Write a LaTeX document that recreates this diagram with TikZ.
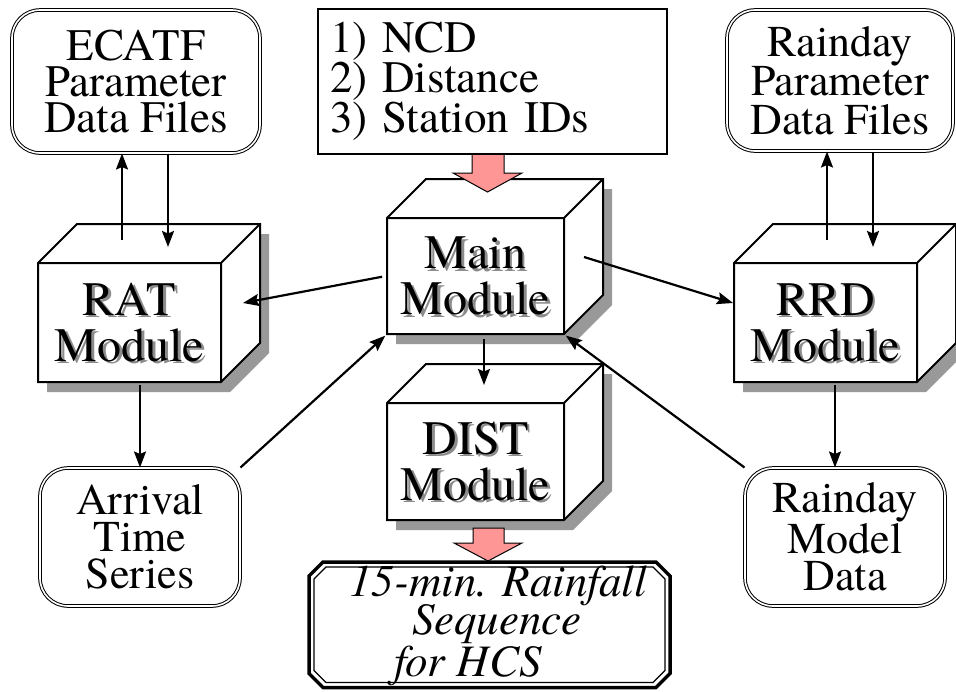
\documentclass[tikz,border=0pt]{standalone}
\usepackage{fontspec}
\setmainfont{texgyretermes}[Extension=.otf, UprightFont=*-regular, ItalicFont=*-italic, BoldFont=*-bold, BoldItalicFont=*-bolditalic]
\usetikzlibrary{arrows.meta,calc}
\definecolor{pinkc}{RGB}{255,150,150}
\definecolor{shadowc}{RGB}{153,153,153}
\tikzset{
  dbox/.style={draw, double, line width=1pt, double distance=1.6pt, rounded corners=28pt, fill=white, align=center, inner sep=0pt, font=\fontsize{44}{37}\selectfont},
  arr/.style={line width=2.2pt, -{Stealth[length=16pt,width=12pt,inset=2.5pt]}},
  cubeline/.style={line width=2pt, line join=miter},
  modlabel/.style={align=center, inner sep=0pt, font=\fontsize{48}{46}\selectfont},
  pinkarr/.style={fill=pinkc, draw=black, line width=1pt, line join=miter},
}
\newcommand\modcube[6]{%
  \fill[shadowc] ({#2+9},{#3+10}) -- ({#2+48},{#3-29}) -- ({#4+48},{#3-29}) -- ({#4+48},{#5-29}) -- ({#4+9},{#5+10}) -- ({#2+9},{#5+10}) -- cycle;
  \filldraw[cubeline, fill=white] (#2,#3) -- ({#2+39},{#3-39}) -- ({#4+39},{#3-39}) -- ({#4+39},{#5-39}) -- (#4,#5) -- (#2,#5) -- cycle;
  \draw[cubeline] (#2,#3) -- (#4,#3) -- (#4,#5) (#4,#3) -- ({#4+39},{#3-39});
  \node[modlabel, text=black!45] at ({(#2+#4)/2+2.5},{(#3+#5)/2+2.5}) {#6};
  \node[modlabel, minimum width={(#4-#2)*1pt}, minimum height={(#5-#3)*1pt}, outer sep=1pt] (#1) at ({(#2+#4)/2},{(#3+#5)/2}) {#6};
}
\begin{document}
\begin{tikzpicture}[x=1pt,y=-1pt]
\useasboundingbox (0,0) rectangle (956,691);
% data boxes
\node[dbox, minimum width=248pt, minimum height=143pt, font=\fontsize{45}{36}\selectfont] (ecatf) at (136,81.5) {ECATF\\Parameter\\Data Files};
\node[dbox, minimum width=226pt, minimum height=141pt, font=\fontsize{44}{39}\selectfont] (rparam) at (840,80.5) {Rainday\\Parameter\\Data Files};
\node[dbox, minimum width=200pt, minimum height=138pt] (arrival) at (140,537) {Arrival\\Time\\Series};
\node[dbox, minimum width=200pt, minimum height=138pt] (rmodel) at (845,537) {Rainday\\Model\\Data};
% info box
\node[draw, line width=2pt, fill=white, minimum height=145pt, text width=325pt, inner xsep=12pt, inner ysep=0pt, align=left, font=\fontsize{45}{40}\selectfont] (info) at (492.5,81.5) {1) NCD\\2) Distance\\3) Station IDs};
% modules
\modcube{rat}{38}{263}{221}{382}{RAT\\Module}
\modcube{main}{387}{218}{564}{334}{Main\\Module}
\modcube{rrd}{734}{263}{917}{382}{RRD\\Module}
\modcube{dist}{387}{403}{564}{520}{DIST\\Module}
% output box
\draw[line width=3.5pt] (323,562) -- (656,562) -- (670,576) -- (670,673.5) -- (656,687.5) -- (323,687.5) -- (309,673.5) -- (309,576) -- cycle;
\draw[line width=1.2pt] (326,567) -- (653,567) -- (665,579) -- (665,670.5) -- (653,682.5) -- (326,682.5) -- (314,670.5) -- (314,579) -- cycle;
\node[align=left, inner sep=0pt, anchor=west, font=\itshape\fontsize{45}{36}\selectfont] (hcs) at (349,626) {15-min. Rainfall\\[-3pt]\hspace*{63pt}Sequence\\[2pt]\hspace*{45pt}for HCS};
% pink block arrows
\draw[pinkarr] (472,155) -- (472,173) -- (453,173) -- (487.5,192) -- (522,173) -- (504,173) -- (504,155);
\draw[pinkarr] (473,528) -- (473,543) -- (454,543) -- (488,561) -- (522,543) -- (504,543) -- (504,528) -- cycle;
% connectors
\coordinate (r1) at (122,240);
\draw[arr] (r1) -- (r1 |- ecatf.south);
\coordinate (r2) at (168,247);
\draw[arr] (r2 |- ecatf.south) -- (r2);
\coordinate (p1) at (827,240);
\draw[arr] (p1) -- (p1 |- rparam.south);
\coordinate (p2) at (873,247);
\draw[arr] (p2 |- rparam.south) -- (p2);
\coordinate (ratside) at (243,303);
\draw[arr, shorten <=4pt] (main.west) -- (ratside);
\coordinate (mainside) at (584,257);
\draw[arr] (mainside) -- ($(rrd.west)+(0,-19.5)$);
\draw[arr, shorten >=1pt] (arrival.north east) -- (main.south west);
\draw[arr, shorten >=1pt] (rmodel.north west) -- (main.south east);
\coordinate (distin) at (484,385);
\draw[arr, shorten <=4pt] (distin |- main.south) -- (distin);
\draw[arr, shorten <=2pt] (arrival.north |- rat.south) -- (arrival.north);
\coordinate (q) at (835,0);
\draw[arr, shorten <=2pt] (q |- rrd.south) -- (q |- rmodel.north);
\end{tikzpicture}
\end{document}
